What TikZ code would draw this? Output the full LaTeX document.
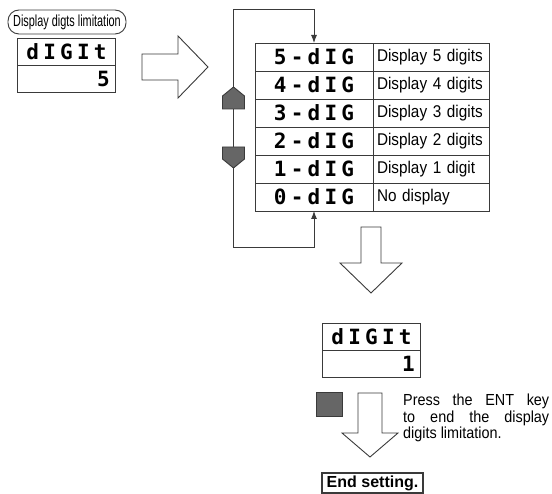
\documentclass[tikz,border=0pt]{standalone}
\usepackage{fontspec}
\setmainfont{Liberation Sans}
\newfontfamily\narrowsans[FakeStretch=0.9]{Liberation Sans}
\newfontfamily\tagfont[FakeStretch=0.68]{Liberation Sans}
\newfontfamily\segfont[LetterSpace=20]{DejaVu Sans Mono}
\usetikzlibrary{arrows.meta}

\definecolor{linegray}{HTML}{3A3A3A}
\definecolor{keygray}{HTML}{666666}

\tikzset{
  cell/.style={draw=linegray, line width=0.9pt, minimum height=28pt, inner sep=0pt, outer sep=0pt},
  segcell/.style={cell, minimum width=118pt, font=\segfont\bfseries\fontsize{21pt}{21pt}\selectfont},
  labelcell/.style={cell, minimum width=116pt, text width=108pt, inner xsep=4pt, align=left, font=\narrowsans\fontsize{17pt}{17pt}\selectfont},
  disprow/.style={draw=linegray, line width=0.9pt, minimum width=98pt, minimum height=27pt, inner sep=0pt, outer sep=0pt, font=\segfont\bfseries\fontsize{21pt}{21pt}\selectfont},
  hollow/.style={draw=linegray, fill=white, line width=0.9pt, line join=miter},
  keybtn/.style={draw=linegray, fill=keygray, line width=0.9pt},
}

\begin{document}
\begin{tikzpicture}[x=1pt,y=-1pt]
\useasboundingbox (0,0) rectangle (552,494);

% setting name and first display
\node[draw=linegray, line width=0.9pt, rounded corners=11pt, minimum width=118pt, minimum height=24pt, inner sep=0pt, font=\tagfont\fontsize{16pt}{16pt}\selectfont] (tag) at (67,22) {Display digts limitation};
\node[disprow] (d1top) at (66.5,51.5) {dIGIt};
\node[disprow] (d1bot) at (66.5,78.5) {};
\node[anchor=east, inner sep=0pt, font=\segfont\bfseries\fontsize{21pt}{21pt}\selectfont] (d1val) at (110,78.5) {5};

% arrow to the table
\draw[hollow] (142,54) -- (178,54) -- (178,36) -- (208,67) -- (178,98) -- (178,80) -- (142,80) -- cycle;

% table of choices
\node[segcell] (r5) at (314,57) {5-dIG};
\node[labelcell] (l5) at (431,57) {Display 5 digits};
\node[segcell] (r4) at (314,85) {4-dIG};
\node[labelcell] (l4) at (431,85) {Display 4 digits};
\node[segcell] (r3) at (314,113) {3-dIG};
\node[labelcell] (l3) at (431,113) {Display 3 digits};
\node[segcell] (r2) at (314,141) {2-dIG};
\node[labelcell] (l2) at (431,141) {Display 2 digits};
\node[segcell] (r1) at (314,169) {1-dIG};
\node[labelcell] (l1) at (431,169) {Display 1 digit};
\node[segcell] (r0) at (314,197) {0-dIG};
\node[labelcell] (l0) at (431,197) {No display};

% loop with the up and down keys
\coordinate (lt) at (233.5,9);
\coordinate (lb) at (233.5,247);
\draw[draw=linegray, line width=0.9pt, {Latex[length=8pt,width=6pt]}-{Latex[length=8pt,width=6pt]}] (r5.north) |- (lt) -- (lb) -| (r0.south);
\filldraw[keybtn] (222.5,109) -- (222.5,96) -- (233.5,87) -- (244.5,96) -- (244.5,109) -- cycle;
\filldraw[keybtn] (222.5,147) -- (244.5,147) -- (244.5,159) -- (233.5,168) -- (222.5,159) -- cycle;

% arrow down to the second display
\draw[hollow] (361,227) -- (381,227) -- (381,263) -- (402,263) -- (371,293) -- (340,263) -- (361,263) -- cycle;

% second display
\node[disprow] (d2top) at (371.5,336.5) {dIGIt};
\node[disprow] (d2bot) at (371.5,363.5) {};
\node[anchor=east, inner sep=0pt, font=\segfont\bfseries\fontsize{21pt}{21pt}\selectfont] (d2val) at (415,363.5) {1};

% ENT key and last arrow
\filldraw[keybtn] (316,392) rectangle (342,416);
\draw[hollow] (358,393) -- (382,393) -- (382,433) -- (398,433) -- (370,457) -- (342,433) -- (358,433) -- cycle;
\node[anchor=north west, inner sep=0pt, text width=146pt, align=justify, font=\narrowsans\fontsize{16pt}{16.5pt}\selectfont] (note) at (403,394) {Press the ENT key\linebreak to end the display\linebreak digits limitation.};

\node[draw=linegray, line width=1.1pt, minimum width=101pt, minimum height=20pt, inner sep=0pt, font=\bfseries\fontsize{16pt}{16pt}\selectfont] (endset) at (372.5,483) {End setting.};
\end{tikzpicture}
\end{document}
